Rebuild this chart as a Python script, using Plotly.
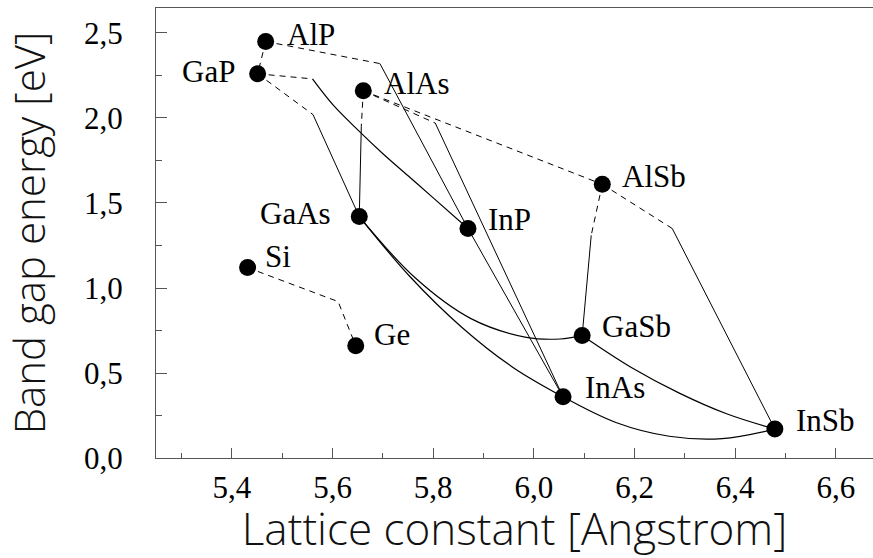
import plotly.graph_objects as go

# Binary semiconductors: lattice constant (Angstrom) and band gap (eV)
compounds = ["AlP", "GaP", "AlAs", "AlSb", "GaAs", "InP", "Si", "Ge", "GaSb", "InAs", "InSb"]
lattice = [5.467, 5.451, 5.661, 6.136, 5.653, 5.869, 5.431, 5.646, 6.096, 6.058, 6.479]
band_gap = [2.45, 2.26, 2.16, 1.61, 1.42, 1.35, 1.12, 0.66, 0.72, 0.36, 0.17]

# Alloy branches with indirect gap (dashed): lattice / gap vertices
indirect_x = {
    "AlGaP": [5.467, 5.451],
    "AlInP": [5.467, 5.694],
    "GaInP": [5.451, 5.560],
    "GaAsP": [5.451, 5.561],
    "AlGaAs": [5.661, 5.657],
    "AlInAs": [5.661, 5.804],
    "AlAsSb": [5.661, 6.136],
    "AlGaSb": [6.136, 6.114],
    "AlInSb": [6.136, 6.275],
    "SiGe": [5.431, 5.611, 5.646],
}
indirect_y = {
    "AlGaP": [2.45, 2.26],
    "AlInP": [2.45, 2.32],
    "GaInP": [2.26, 2.23],
    "GaAsP": [2.26, 2.02],
    "AlGaAs": [2.16, 1.95],
    "AlInAs": [2.16, 1.97],
    "AlAsSb": [2.16, 1.61],
    "AlGaSb": [1.61, 1.31],
    "AlInSb": [1.61, 1.35],
    "SiGe": [1.12, 0.92, 0.66],
}

# Alloy branches with direct gap (solid): lattice / gap vertices
direct_x = {
    "AlInP": [5.694, 5.869],
    "GaInP": [5.560, 5.600, 5.650, 5.700, 5.750, 5.800, 5.869],
    "GaAsP": [5.561, 5.653],
    "AlGaAs": [5.657, 5.653],
    "AlInAs": [5.804, 6.058],
    "AlGaSb": [6.114, 6.096],
    "AlInSb": [6.275, 6.479],
    "InAsP": [5.869, 6.058],
    "InGaAs": [5.653, 5.754, 5.856, 5.957, 6.058],
    "GaAsSb": [5.653, 5.764, 5.875, 5.985, 6.052, 6.096],
    "GaInSb": [6.096, 6.192, 6.288, 6.383, 6.479],
    "InAsSb": [6.058, 6.163, 6.269, 6.374, 6.479],
}
direct_y = {
    "AlInP": [2.32, 1.35],
    "GaInP": [2.23, 2.08, 1.93, 1.79, 1.66, 1.53, 1.35],
    "GaAsP": [2.02, 1.42],
    "AlGaAs": [1.95, 1.42],
    "AlInAs": [1.97, 0.36],
    "AlGaSb": [1.31, 0.72],
    "AlInSb": [1.35, 0.17],
    "InAsP": [1.35, 0.36],
    "InGaAs": [1.42, 1.066, 0.771, 0.536, 0.36],
    "GaAsSb": [1.42, 1.06, 0.82, 0.71, 0.70, 0.72],
    "GaInSb": [0.72, 0.535, 0.383, 0.26, 0.17],
    "InAsSb": [0.36, 0.209, 0.128, 0.114, 0.17],
}

x_ticks = [5.4, 5.6, 5.8, 6.0, 6.2, 6.4, 6.6]
y_ticks = [0.0, 0.5, 1.0, 1.5, 2.0, 2.5]

# label placement around each marker: (anchor side, horizontal px, vertical px)
label_place = {
    "AlP": ("left", 19, 7), "GaP": ("right", -21, 2), "AlAs": ("left", 19, 7),
    "AlSb": ("left", 18, 8), "GaAs": ("right", -26, 3), "InP": ("left", 18, 9),
    "Si": ("left", 15, 11), "Ge": ("left", 16, 11), "GaSb": ("left", 18, 9),
    "InAs": ("left", 20, 9), "InSb": ("left", 19, 9),
}

serif = "Liberation Serif, Times New Roman, serif"
sans = "Open Sans, sans-serif"

fig = go.Figure()

for name in indirect_x:
    fig.add_trace(go.Scatter(
        x=indirect_x[name], y=indirect_y[name], mode="lines",
        line=dict(color="black", width=1, dash="6px,5px"),
        hoverinfo="skip", showlegend=False, name=name))

for name in direct_x:
    curved = len(direct_x[name]) > 2
    fig.add_trace(go.Scatter(
        x=direct_x[name], y=direct_y[name], mode="lines",
        line=dict(color="black", width=1.2 if curved else 1,
                  shape="spline" if curved else "linear", smoothing=1.0),
        hoverinfo="skip", showlegend=False, name=name))

fig.add_trace(go.Scatter(
    x=lattice, y=band_gap, mode="markers", text=compounds,
    marker=dict(size=17, color="black"), showlegend=False))

for name, lx, ly in zip(compounds, lattice, band_gap):
    side, dx, dy = label_place[name]
    fig.add_annotation(
        x=lx, y=ly, text=name, showarrow=False,
        xanchor=side, yanchor="middle", xshift=dx, yshift=dy,
        font=dict(family=serif, size=31, color="black"))

axis_color = "#555555"
fig.update_layout(
    width=873, height=558,
    margin=dict(l=156, r=0, t=8, b=100),
    paper_bgcolor="white", plot_bgcolor="white",
    separators=", ",
    xaxis=dict(
        range=[5.249, 6.674], tickvals=x_ticks, tickformat=".1f",
        ticks="inside", ticklen=10, tickcolor=axis_color, tickwidth=1,
        showline=True, linecolor=axis_color, linewidth=1, mirror=True,
        showgrid=False, zeroline=False,
        minor=dict(ticks="inside", ticklen=5, dtick=0.1, tick0=5.3,
                   tickcolor=axis_color, showgrid=False),
        tickfont=dict(family=serif, size=31, color="black"),
        ticklabelstandoff=2,
        title=dict(text="Lattice constant [Angstrom]", standoff=10,
                   font=dict(family=sans, size=44, color="#111111", weight=300)),
    ),
    yaxis=dict(
        range=[0, 2.647], tickvals=y_ticks, tickformat=".1f",
        ticks="inside", ticklen=11, tickcolor=axis_color, tickwidth=1,
        showline=True, linecolor=axis_color, linewidth=1, mirror=False,
        showgrid=False, zeroline=False,
        minor=dict(ticks="inside", ticklen=6, dtick=0.25, tick0=0,
                   tickcolor=axis_color, showgrid=False),
        tickfont=dict(family=serif, size=31, color="black"),
        ticklabelstandoff=26,
        title=dict(text="Band gap energy [eV]", standoff=26,
                   font=dict(family=sans, size=42, color="#111111", weight=300)),
    ),
)

fig.write_html("out.html")
